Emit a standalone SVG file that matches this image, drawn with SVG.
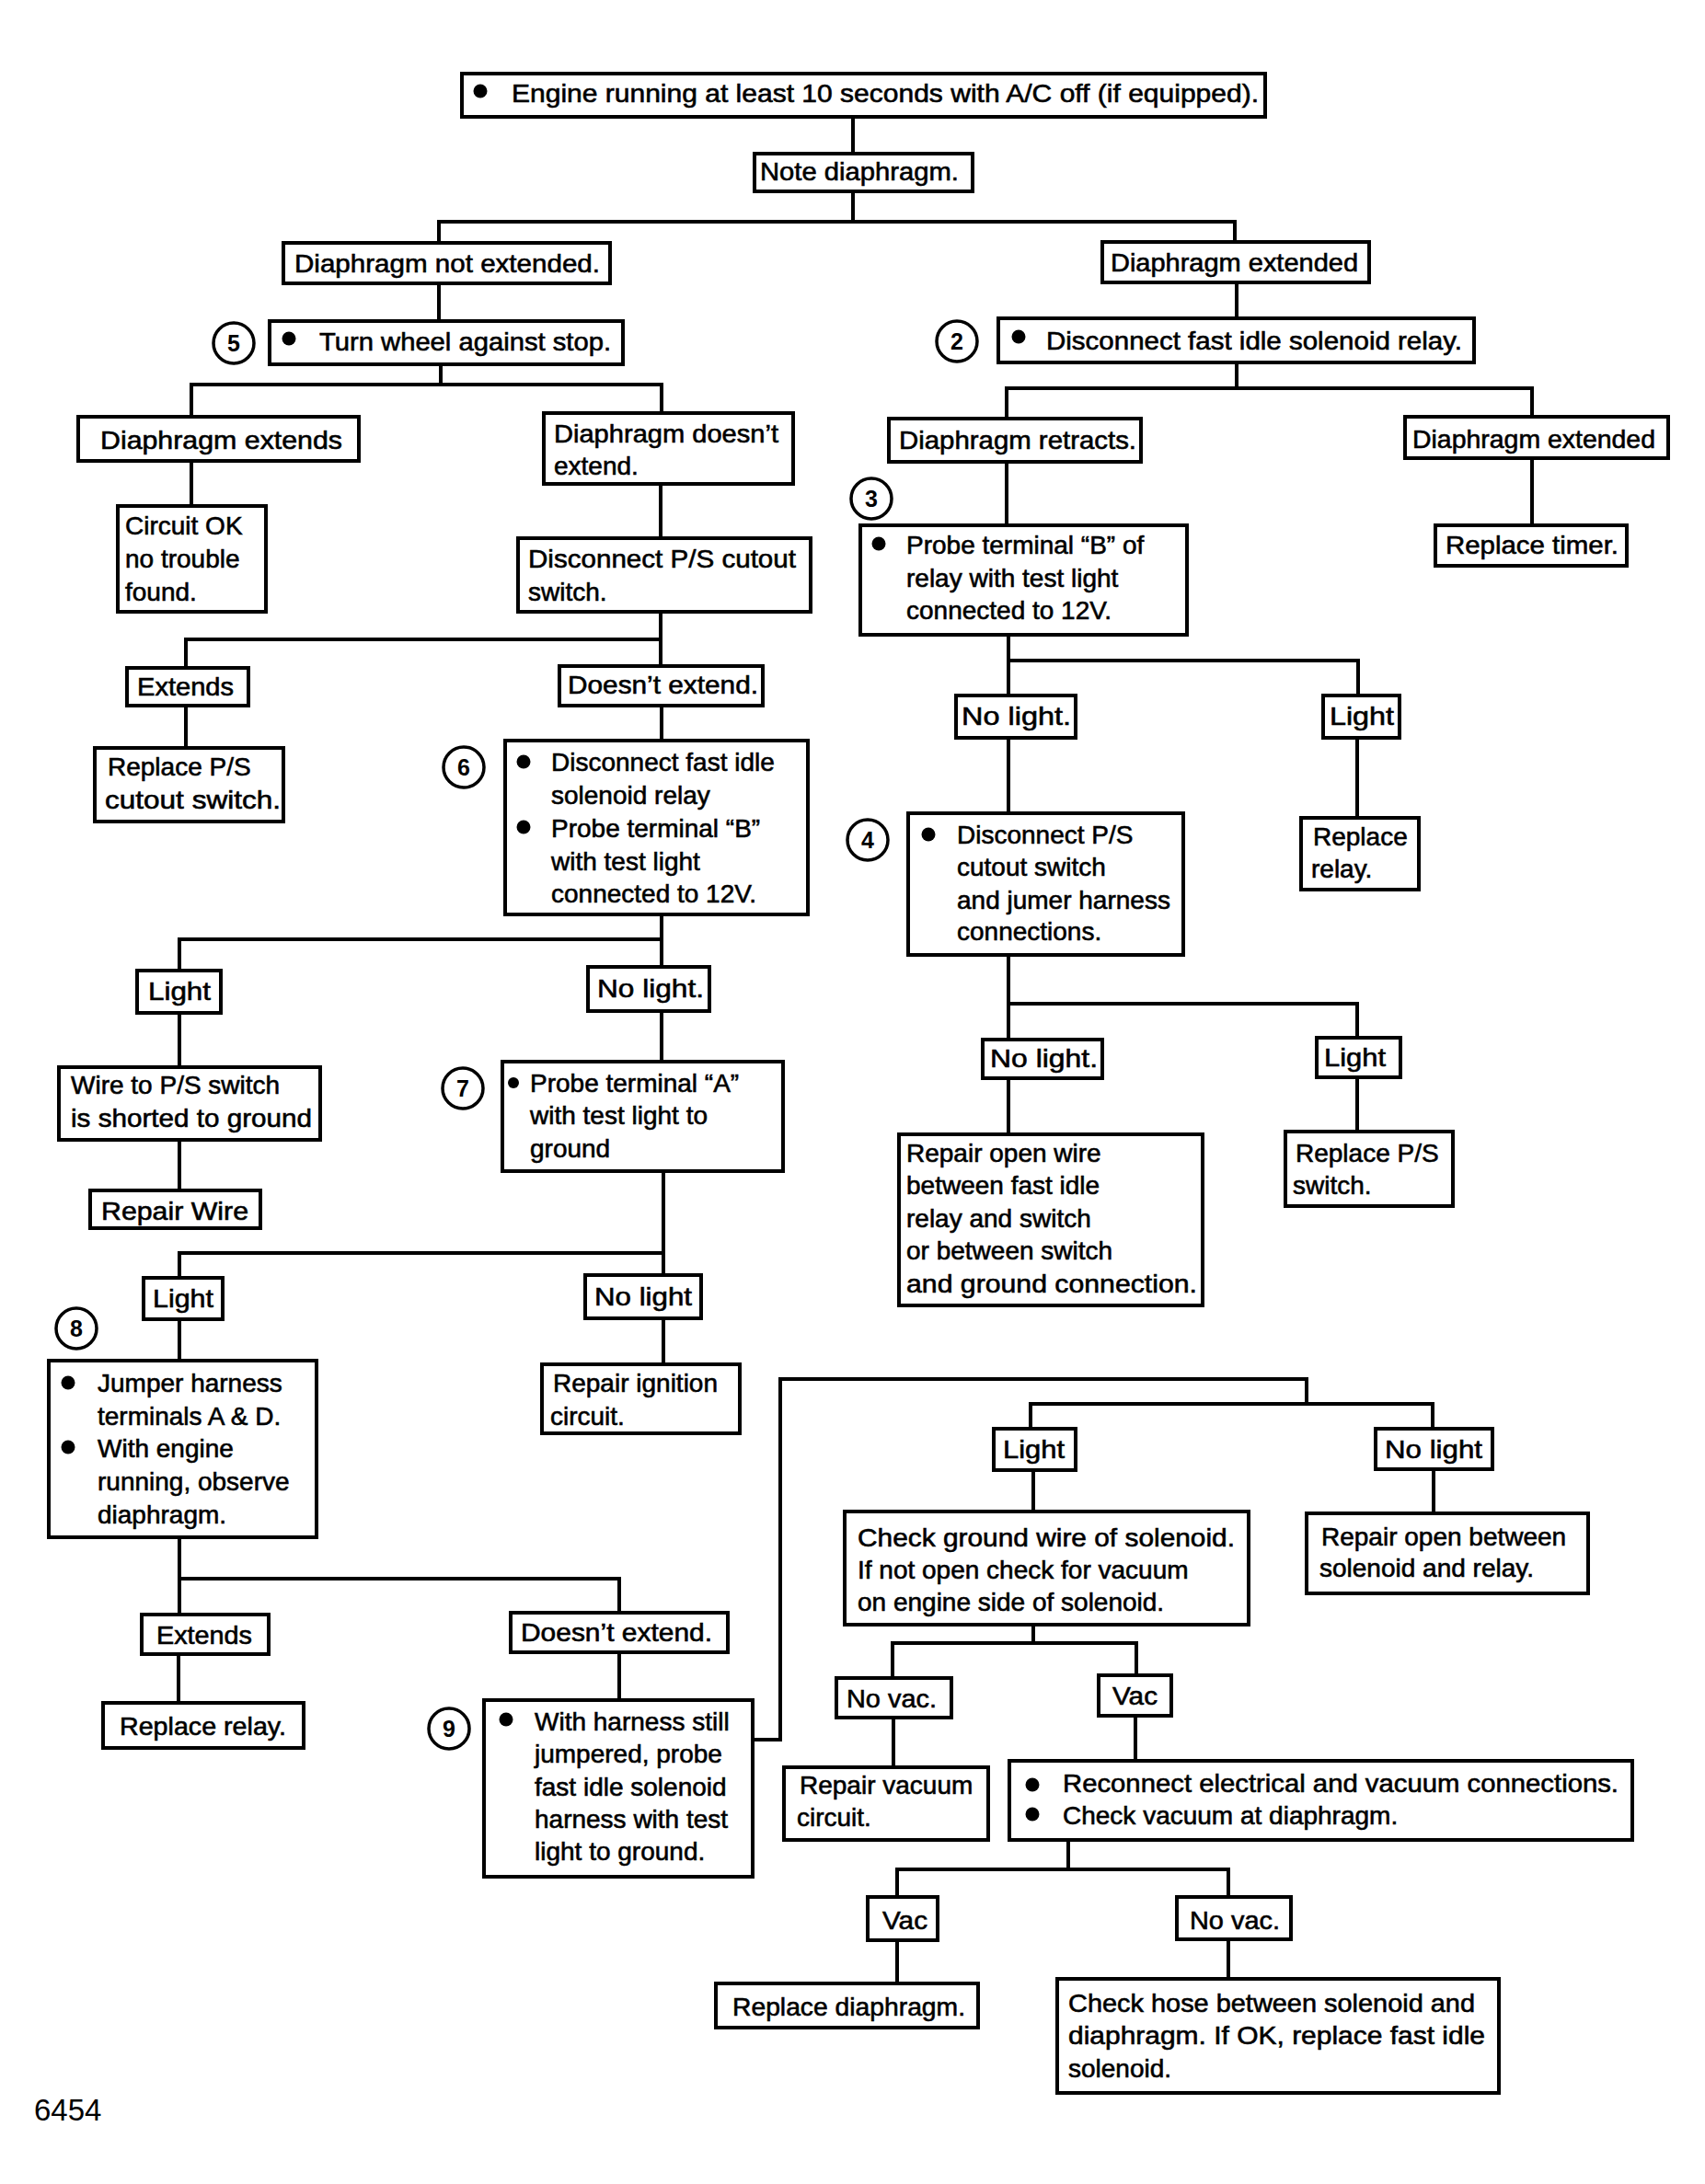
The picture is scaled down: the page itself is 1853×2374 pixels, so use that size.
<svg xmlns="http://www.w3.org/2000/svg" width="1853" height="2374" viewBox="0 0 1853 2374">
<style>
.bg{fill:#fff}
.box{fill:#fff;stroke:#000;stroke-width:4}
.t{font-family:"Liberation Sans",Arial,sans-serif;font-size:28px;fill:#000;stroke:#000;stroke-width:0.6}
.b{fill:#000}
.c{fill:none;stroke:#000;stroke-width:3.5}
.n{font-family:"Liberation Sans",Arial,sans-serif;font-size:25px;font-weight:bold;text-anchor:middle;fill:#000}
.ln{fill:none;stroke:#000;stroke-width:4;stroke-linejoin:miter}
.fig{font-family:"Liberation Sans",Arial,sans-serif;font-size:33px;fill:#000}
</style>
<rect class="bg" x="0" y="0" width="1853" height="2374"/>
<g id="connectors">
<path class="ln" d="M927 127V167"/>
<path class="ln" d="M927 208V241M477 264V241H1342V263"/>
<path class="ln" d="M477 308V349"/>
<path class="ln" d="M479 396V418M208 453V418H719V449"/>
<path class="ln" d="M1344 307V346"/>
<path class="ln" d="M1344 394V422M1094 455V422H1665V453"/>
<path class="ln" d="M208 501V550"/>
<path class="ln" d="M718 526V585"/>
<path class="ln" d="M1094 502V571"/>
<path class="ln" d="M1665 498V571"/>
<path class="ln" d="M718 665V724M202 726V695H718"/>
<path class="ln" d="M1096 690V756M1096 718H1476V756"/>
<path class="ln" d="M202 767V813"/>
<path class="ln" d="M719 767V805"/>
<path class="ln" d="M1096 802V884"/>
<path class="ln" d="M1475 802V889"/>
<path class="ln" d="M719 994V1051M195 1055V1021H719"/>
<path class="ln" d="M1096 1038V1130M1096 1091H1475V1128"/>
<path class="ln" d="M195 1101V1160"/>
<path class="ln" d="M719 1099V1154"/>
<path class="ln" d="M1096 1172V1233"/>
<path class="ln" d="M1475 1171V1230"/>
<path class="ln" d="M195 1239V1294"/>
<path class="ln" d="M721 1273V1386M195 1389V1362H721"/>
<path class="ln" d="M195 1434V1479"/>
<path class="ln" d="M721 1433V1483"/>
<path class="ln" d="M195 1671V1755M195 1716H673V1753"/>
<path class="ln" d="M194 1798V1851"/>
<path class="ln" d="M673 1796V1848"/>
<path class="ln" d="M818 1891H848V1499H1420V1526M1120 1553V1526H1557V1553"/>
<path class="ln" d="M1123 1598V1643"/>
<path class="ln" d="M1558 1597V1645"/>
<path class="ln" d="M1123 1766V1786M970 1824V1786H1235V1821"/>
<path class="ln" d="M971 1867V1921"/>
<path class="ln" d="M1234 1865V1914"/>
<path class="ln" d="M1161 2000V2032M975 2062V2032H1335V2062"/>
<path class="ln" d="M975 2109V2156"/>
<path class="ln" d="M1335 2108V2151"/>
</g>
<g id="n-start"><rect class="box" x="502" y="80" width="873" height="47"/><circle class="b" cx="522" cy="99" r="7.5"/><text class="t" x="556" y="111" textLength="812" lengthAdjust="spacingAndGlyphs">Engine running at least 10 seconds with A/C off (if equipped).</text></g>
<g id="n-note"><rect class="box" x="820" y="167" width="237" height="41"/><text class="t" x="826" y="196" textLength="216" lengthAdjust="spacingAndGlyphs">Note diaphragm.</text></g>
<g id="n-notext"><rect class="box" x="308" y="264" width="355" height="44"/><text class="t" x="320" y="296" textLength="332" lengthAdjust="spacingAndGlyphs">Diaphragm not extended.</text></g>
<g id="n-ext"><rect class="box" x="1198" y="263" width="290" height="44"/><text class="t" x="1207" y="295" textLength="269" lengthAdjust="spacingAndGlyphs">Diaphragm extended</text></g>
<g id="n-turn"><circle class="c" cx="254" cy="373" r="22"/><text class="n" x="254" y="382">5</text><rect class="box" x="293" y="349" width="384" height="47"/><circle class="b" cx="314" cy="368" r="7.5"/><text class="t" x="347" y="381" textLength="317" lengthAdjust="spacingAndGlyphs">Turn wheel against stop.</text></g>
<g id="n-disc1"><circle class="c" cx="1040" cy="371" r="22"/><text class="n" x="1040" y="380">2</text><rect class="box" x="1085" y="346" width="517" height="48"/><circle class="b" cx="1107" cy="366" r="7.5"/><text class="t" x="1137" y="380" textLength="452" lengthAdjust="spacingAndGlyphs">Disconnect fast idle solenoid relay.</text></g>
<g id="n-extends1"><rect class="box" x="85" y="453" width="305" height="48"/><text class="t" x="109" y="488" textLength="263" lengthAdjust="spacingAndGlyphs">Diaphragm extends</text></g>
<g id="n-doesnt1"><rect class="box" x="591" y="449" width="271" height="77"/><text class="t" x="602" y="481" textLength="244" lengthAdjust="spacingAndGlyphs">Diaphragm doesn’t</text><text class="t" x="602" y="516">extend.</text></g>
<g id="n-retracts"><rect class="box" x="966" y="455" width="274" height="47"/><text class="t" x="977" y="488" textLength="258" lengthAdjust="spacingAndGlyphs">Diaphragm retracts.</text></g>
<g id="n-ext2"><rect class="box" x="1527" y="453" width="286" height="45"/><text class="t" x="1535" y="487" textLength="264" lengthAdjust="spacingAndGlyphs">Diaphragm extended</text></g>
<g id="n-ok"><rect class="box" x="128" y="550" width="161" height="115"/><text class="t" x="136" y="581">Circuit OK</text><text class="t" x="136" y="617">no trouble</text><text class="t" x="136" y="653">found.</text></g>
<g id="n-discps"><rect class="box" x="563" y="585" width="318" height="80"/><text class="t" x="574" y="617" textLength="291" lengthAdjust="spacingAndGlyphs">Disconnect P/S cutout</text><text class="t" x="574" y="653">switch.</text></g>
<g id="n-probeb"><circle class="c" cx="947" cy="542" r="22"/><text class="n" x="947" y="551">3</text><rect class="box" x="935" y="571" width="355" height="119"/><circle class="b" cx="955" cy="591" r="7.5"/><text class="t" x="985" y="602">Probe terminal “B” of</text><text class="t" x="985" y="638">relay with test light</text><text class="t" x="985" y="673">connected to 12V.</text></g>
<g id="n-timer"><rect class="box" x="1560" y="571" width="208" height="44"/><text class="t" x="1571" y="602" textLength="188" lengthAdjust="spacingAndGlyphs">Replace timer.</text></g>
<g id="n-extends2"><rect class="box" x="138" y="726" width="132" height="41"/><text class="t" x="149" y="756" textLength="105" lengthAdjust="spacingAndGlyphs">Extends</text></g>
<g id="n-doesnt2"><rect class="box" x="608" y="724" width="221" height="43"/><text class="t" x="617" y="754" textLength="207" lengthAdjust="spacingAndGlyphs">Doesn’t extend.</text></g>
<g id="n-nolight1"><rect class="box" x="1039" y="756" width="130" height="46"/><text class="t" x="1045" y="788" textLength="119" lengthAdjust="spacingAndGlyphs">No light.</text></g>
<g id="n-light1"><rect class="box" x="1438" y="756" width="83" height="46"/><text class="t" x="1445" y="788" textLength="70" lengthAdjust="spacingAndGlyphs">Light</text></g>
<g id="n-replps"><rect class="box" x="103" y="813" width="205" height="80"/><text class="t" x="117" y="843">Replace P/S</text><text class="t" x="114" y="879" textLength="191" lengthAdjust="spacingAndGlyphs">cutout switch.</text></g>
<g id="n-step6"><circle class="c" cx="504" cy="834" r="22"/><text class="n" x="504" y="843">6</text><rect class="box" x="549" y="805" width="329" height="189"/><circle class="b" cx="569" cy="828" r="7.5"/><circle class="b" cx="569" cy="899" r="7.5"/><text class="t" x="599" y="838">Disconnect fast idle</text><text class="t" x="599" y="874">solenoid relay</text><text class="t" x="599" y="910">Probe terminal “B”</text><text class="t" x="599" y="946">with test light</text><text class="t" x="599" y="981">connected to 12V.</text></g>
<g id="n-step4"><circle class="c" cx="943" cy="913" r="22"/><text class="n" x="943" y="922">4</text><rect class="box" x="987" y="884" width="299" height="154"/><circle class="b" cx="1009" cy="907" r="7.5"/><text class="t" x="1040" y="917">Disconnect P/S</text><text class="t" x="1040" y="952">cutout switch</text><text class="t" x="1040" y="988">and jumer harness</text><text class="t" x="1040" y="1022">connections.</text></g>
<g id="n-replrelay1"><rect class="box" x="1414" y="889" width="128" height="78"/><text class="t" x="1427" y="919">Replace</text><text class="t" x="1425" y="954">relay.</text></g>
<g id="n-light2"><rect class="box" x="149" y="1055" width="91" height="46"/><text class="t" x="161" y="1087" textLength="68" lengthAdjust="spacingAndGlyphs">Light</text></g>
<g id="n-nolight2"><rect class="box" x="639" y="1051" width="132" height="48"/><text class="t" x="649" y="1084" textLength="116" lengthAdjust="spacingAndGlyphs">No light.</text></g>
<g id="n-nolight3"><rect class="box" x="1068" y="1130" width="130" height="42"/><text class="t" x="1076" y="1160" textLength="117" lengthAdjust="spacingAndGlyphs">No light.</text></g>
<g id="n-light3"><rect class="box" x="1431" y="1128" width="91" height="43"/><text class="t" x="1439" y="1159" textLength="67" lengthAdjust="spacingAndGlyphs">Light</text></g>
<g id="n-wire"><rect class="box" x="64" y="1160" width="284" height="79"/><text class="t" x="77" y="1189">Wire to P/S switch</text><text class="t" x="77" y="1225" textLength="262" lengthAdjust="spacingAndGlyphs">is shorted to ground</text></g>
<g id="n-step7"><circle class="c" cx="503" cy="1183" r="22"/><text class="n" x="503" y="1192">7</text><rect class="box" x="546" y="1154" width="305" height="119"/><circle class="b" cx="558" cy="1177" r="6"/><text class="t" x="576" y="1187">Probe terminal “A”</text><text class="t" x="576" y="1222">with test light to</text><text class="t" x="576" y="1258">ground</text></g>
<g id="n-repairopen"><rect class="box" x="977" y="1233" width="330" height="186"/><text class="t" x="985" y="1263">Repair open wire</text><text class="t" x="985" y="1298">between fast idle</text><text class="t" x="985" y="1334">relay and switch</text><text class="t" x="985" y="1369">or between switch</text><text class="t" x="985" y="1405" textLength="316" lengthAdjust="spacingAndGlyphs">and ground connection.</text></g>
<g id="n-replpsw"><rect class="box" x="1397" y="1230" width="182" height="81"/><text class="t" x="1408" y="1263">Replace P/S</text><text class="t" x="1405" y="1298">switch.</text></g>
<g id="n-repairwire"><rect class="box" x="98" y="1294" width="185" height="41"/><text class="t" x="110" y="1326" textLength="160" lengthAdjust="spacingAndGlyphs">Repair Wire</text></g>
<g id="n-light4"><rect class="box" x="156" y="1389" width="86" height="45"/><text class="t" x="166" y="1421" textLength="66" lengthAdjust="spacingAndGlyphs">Light</text></g>
<g id="n-nolight4"><rect class="box" x="636" y="1386" width="126" height="47"/><text class="t" x="646" y="1419" textLength="106" lengthAdjust="spacingAndGlyphs">No light</text></g>
<g id="n-step8"><circle class="c" cx="83" cy="1444" r="22"/><text class="n" x="83" y="1453">8</text><rect class="box" x="53" y="1479" width="291" height="192"/><circle class="b" cx="74" cy="1503" r="7.5"/><circle class="b" cx="74" cy="1573" r="7.5"/><text class="t" x="106" y="1513">Jumper harness</text><text class="t" x="106" y="1549">terminals A &amp; D.</text><text class="t" x="106" y="1584">With engine</text><text class="t" x="106" y="1620">running, observe</text><text class="t" x="106" y="1656">diaphragm.</text></g>
<g id="n-ignition"><rect class="box" x="589" y="1483" width="215" height="75"/><text class="t" x="601" y="1513">Repair ignition</text><text class="t" x="598" y="1549">circuit.</text></g>
<g id="n-extends3"><rect class="box" x="154" y="1755" width="138" height="43"/><text class="t" x="170" y="1787" textLength="104" lengthAdjust="spacingAndGlyphs">Extends</text></g>
<g id="n-doesnt3"><rect class="box" x="555" y="1753" width="236" height="43"/><text class="t" x="566" y="1784" textLength="208" lengthAdjust="spacingAndGlyphs">Doesn’t extend.</text></g>
<g id="n-replrelay2"><rect class="box" x="112" y="1851" width="218" height="49"/><text class="t" x="130" y="1886" textLength="181" lengthAdjust="spacingAndGlyphs">Replace relay.</text></g>
<g id="n-step9"><circle class="c" cx="488" cy="1879" r="22"/><text class="n" x="488" y="1888">9</text><rect class="box" x="526" y="1848" width="292" height="192"/><circle class="b" cx="550" cy="1869" r="7.5"/><text class="t" x="581" y="1881">With harness still</text><text class="t" x="581" y="1916">jumpered, probe</text><text class="t" x="581" y="1952">fast idle solenoid</text><text class="t" x="581" y="1987">harness with test</text><text class="t" x="581" y="2022">light to ground.</text></g>
<g id="n-light5"><rect class="box" x="1080" y="1553" width="89" height="45"/><text class="t" x="1090" y="1585" textLength="67" lengthAdjust="spacingAndGlyphs">Light</text></g>
<g id="n-nolight5"><rect class="box" x="1495" y="1553" width="127" height="44"/><text class="t" x="1505" y="1585" textLength="106" lengthAdjust="spacingAndGlyphs">No light</text></g>
<g id="n-checkground"><rect class="box" x="918" y="1643" width="439" height="123"/><text class="t" x="932" y="1681" textLength="410" lengthAdjust="spacingAndGlyphs">Check ground wire of solenoid.</text><text class="t" x="932" y="1716">If not open check for vacuum</text><text class="t" x="932" y="1751">on engine side of solenoid.</text></g>
<g id="n-repairbetween"><rect class="box" x="1420" y="1645" width="306" height="87"/><text class="t" x="1436" y="1680">Repair open between</text><text class="t" x="1434" y="1714">solenoid and relay.</text></g>
<g id="n-novac1"><rect class="box" x="909" y="1824" width="125" height="43"/><text class="t" x="920" y="1856" textLength="98" lengthAdjust="spacingAndGlyphs">No vac.</text></g>
<g id="n-vac1"><rect class="box" x="1194" y="1821" width="79" height="44"/><text class="t" x="1209" y="1853" textLength="49" lengthAdjust="spacingAndGlyphs">Vac</text></g>
<g id="n-repairvac"><rect class="box" x="852" y="1921" width="222" height="79"/><text class="t" x="869" y="1950">Repair vacuum</text><text class="t" x="866" y="1985">circuit.</text></g>
<g id="n-reconnect"><rect class="box" x="1097" y="1914" width="677" height="86"/><circle class="b" cx="1122" cy="1940" r="7.5"/><circle class="b" cx="1122" cy="1972" r="7.5"/><text class="t" x="1155" y="1948" textLength="604" lengthAdjust="spacingAndGlyphs">Reconnect electrical and vacuum connections.</text><text class="t" x="1155" y="1983">Check vacuum at diaphragm.</text></g>
<g id="n-vac2"><rect class="box" x="943" y="2062" width="76" height="47"/><text class="t" x="959" y="2097" textLength="49" lengthAdjust="spacingAndGlyphs">Vac</text></g>
<g id="n-novac2"><rect class="box" x="1279" y="2062" width="124" height="46"/><text class="t" x="1293" y="2097" textLength="98" lengthAdjust="spacingAndGlyphs">No vac.</text></g>
<g id="n-repldiaph"><rect class="box" x="778" y="2156" width="285" height="48"/><text class="t" x="796" y="2191" textLength="253" lengthAdjust="spacingAndGlyphs">Replace diaphragm.</text></g>
<g id="n-checkhose"><rect class="box" x="1149" y="2151" width="480" height="124"/><text class="t" x="1161" y="2187" textLength="442" lengthAdjust="spacingAndGlyphs">Check hose between solenoid and</text><text class="t" x="1161" y="2222" textLength="453" lengthAdjust="spacingAndGlyphs">diaphragm. If OK, replace fast idle</text><text class="t" x="1161" y="2258">solenoid.</text></g>
<text class="fig" x="37" y="2305">6454</text>
</svg>
